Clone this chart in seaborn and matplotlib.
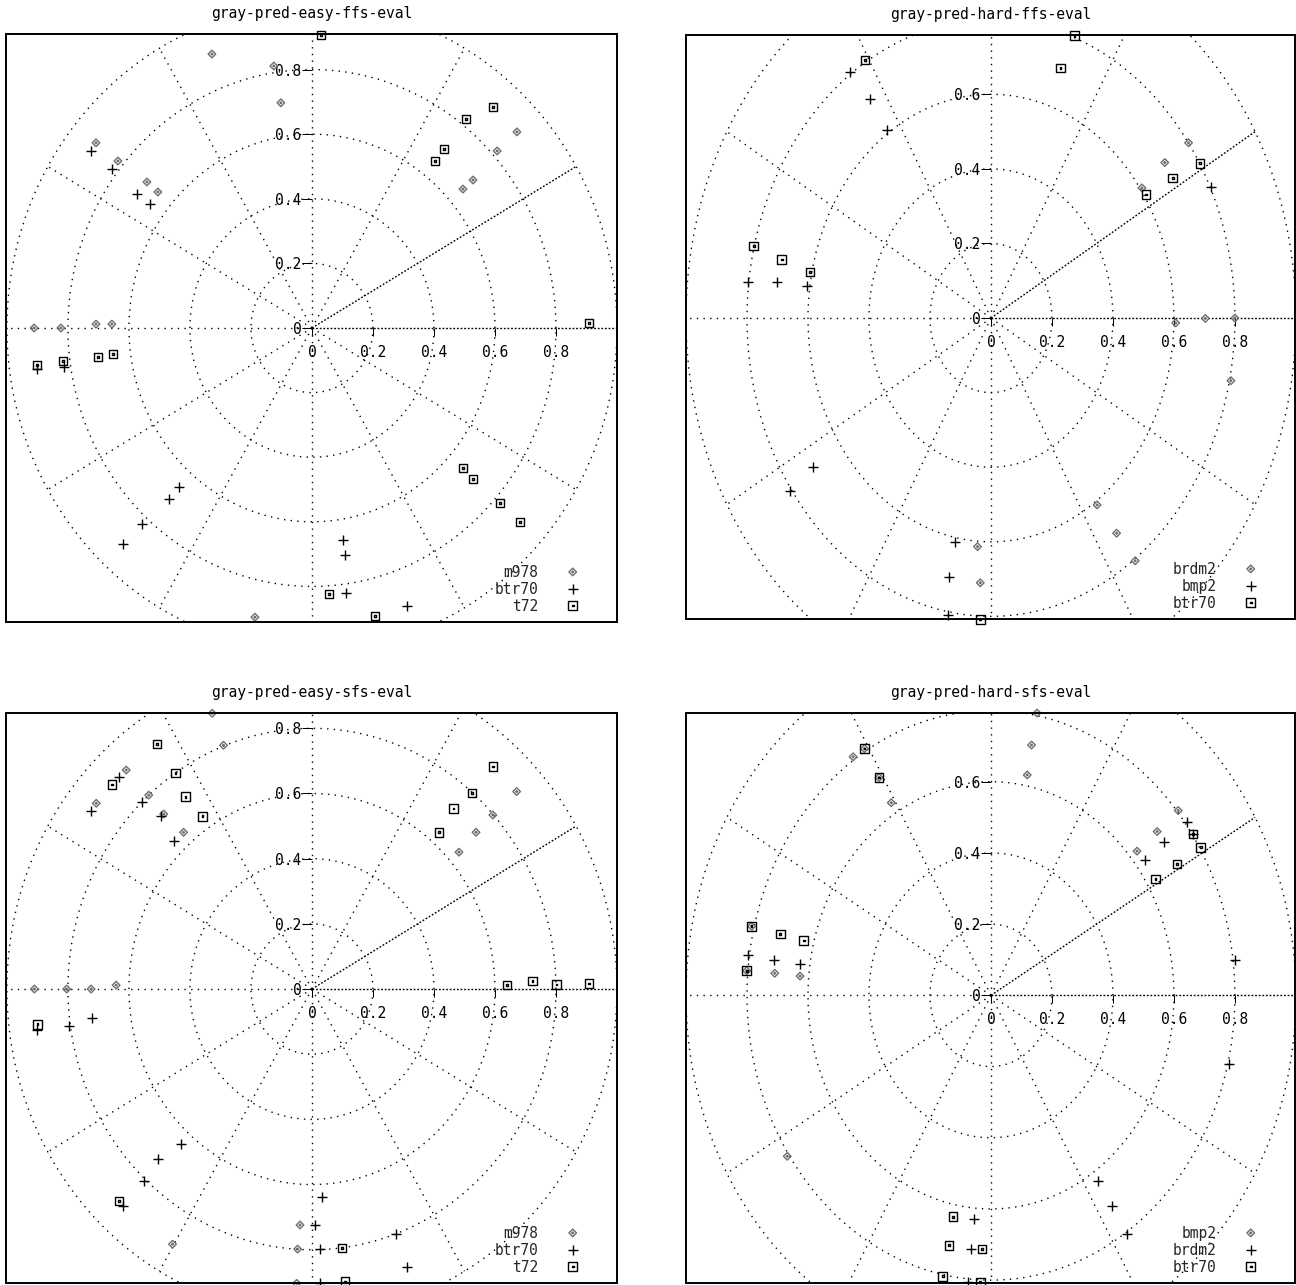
import numpy as np
import matplotlib
matplotlib.use("Agg")
import matplotlib.pyplot as plt
from matplotlib.path import Path
from matplotlib.patches import Rectangle
import seaborn as sns

# ---------------- data (x, y positions) ----------------
# Panel 1: gray-pred-easy-ffs-eval
p1_m978_x = [-0.328, -0.125, -0.102, -0.708, -0.636, -0.541, -0.505, 0.672, 0.607, 0.528, 0.495,
             -0.911, -0.823, -0.708, -0.656, -0.187]
p1_m978_y = [0.848, 0.811, 0.697, 0.573, 0.517, 0.452, 0.421, 0.607, 0.548, 0.458, 0.430,
             0.0, 0.0, 0.012, 0.012, -0.895]
p1_btr70_x = [-0.725, -0.656, -0.574, -0.531, -0.902, -0.813, -0.436, -0.469, -0.557, -0.620,
              0.102, 0.108, 0.111, 0.311]
p1_btr70_y = [0.548, 0.492, 0.415, 0.384, -0.127, -0.121, -0.492, -0.529, -0.607, -0.669,
              -0.656, -0.703, -0.820, -0.861]
p1_t72_x = [0.030, 0.593, 0.505, 0.433, 0.403, 0.908, -0.902, -0.816, -0.702, -0.652,
            0.495, 0.528, 0.616, 0.682, 0.056, 0.207]
p1_t72_y = [0.907, 0.684, 0.647, 0.554, 0.517, 0.015, -0.115, -0.102, -0.090, -0.080,
            -0.433, -0.467, -0.542, -0.601, -0.824, -0.892]

# Panel 2: gray-pred-hard-ffs-eval
p2_brdm2_x = [0.648, 0.570, 0.495, 0.606, 0.703, 0.800, 0.787, 0.348, 0.412, 0.473, -0.044, -0.035]
p2_brdm2_y = [0.470, 0.417, 0.349, -0.013, -0.001, 0.0, -0.168, -0.501, -0.577, -0.651, -0.613, -0.710]
p2_bmp2_x = [-0.461, -0.395, -0.340, 0.722, -0.797, -0.700, -0.604, -0.584, -0.658, -0.119, -0.137, -0.141]
p2_bmp2_y = [0.660, 0.587, 0.505, 0.352, 0.096, 0.096, 0.086, -0.400, -0.465, -0.601, -0.695, -0.796]
p2_btr70_x = [0.274, -0.413, 0.228, 0.686, 0.596, 0.509, -0.778, -0.686, -0.593, -0.035]
p2_btr70_y = [0.757, 0.692, 0.670, 0.415, 0.375, 0.331, 0.193, 0.157, 0.124, -0.808]

# Panel 3: gray-pred-easy-sfs-eval
p3_m978_x = [-0.327, -0.290, -0.609, -0.535, -0.707, -0.486, -0.421, 0.671, 0.593, 0.538, 0.482,
             -0.910, -0.804, -0.724, -0.642, -0.039, -0.047, -0.457, -0.050]
p3_m978_y = [0.846, 0.748, 0.672, 0.595, 0.570, 0.537, 0.481, 0.606, 0.534, 0.481, 0.420,
             0.0, 0.0, 0.0, 0.012, -0.724, -0.798, -0.783, -0.903]
p3_btr70_x = [-0.633, -0.558, -0.725, -0.495, -0.452, -0.900, -0.795, -0.721, -0.430, -0.504,
              -0.549, -0.618, 0.033, 0.011, 0.028, 0.274, 0.310, 0.028]
p3_btr70_y = [0.651, 0.574, 0.546, 0.530, 0.453, -0.126, -0.113, -0.088, -0.476, -0.522,
              -0.589, -0.667, -0.638, -0.724, -0.799, -0.753, -0.852, -0.903]
p3_t72_x = [-0.508, -0.447, -0.656, -0.415, -0.359, 0.593, 0.524, 0.464, 0.417, 0.640, 0.723,
            0.802, 0.908, -0.900, -0.633, 0.099, 0.108]
p3_t72_y = [0.752, 0.663, 0.628, 0.590, 0.530, 0.683, 0.602, 0.554, 0.481, 0.012, 0.025,
            0.014, 0.017, -0.108, -0.650, -0.795, -0.898]

# Panel 4: gray-pred-hard-sfs-eval
p4_bmp2_x = [0.151, 0.133, 0.119, -0.452, -0.367, -0.327, 0.614, 0.545, 0.479, -0.709, -0.626,
             -0.801, -0.785, -0.415, -0.668]
p4_bmp2_y = [0.793, 0.703, 0.619, 0.670, 0.612, 0.541, 0.519, 0.460, 0.405, 0.062, 0.054,
             0.069, 0.194, 0.693, -0.452]
p4_brdm2_x = [0.642, 0.567, 0.504, 0.662, -0.797, -0.711, -0.627, 0.799, 0.779, 0.351, 0.397,
              0.446, -0.054, -0.065, -0.074]
p4_brdm2_y = [0.486, 0.431, 0.379, 0.453, 0.113, 0.098, 0.087, 0.098, -0.194, -0.521, -0.593,
              -0.669, -0.628, -0.712, -0.805]
p4_btr70_x = [-0.415, -0.367, 0.662, 0.688, 0.610, 0.540, -0.785, -0.691, -0.614, -0.801,
              -0.124, -0.138, -0.029, -0.158, -0.035]
p4_btr70_y = [0.693, 0.612, 0.453, 0.416, 0.369, 0.327, 0.194, 0.172, 0.154, 0.069,
              -0.622, -0.702, -0.712, -0.789, -0.805]

titles = ["gray-pred-easy-ffs-eval", "gray-pred-hard-ffs-eval",
          "gray-pred-easy-sfs-eval", "gray-pred-hard-sfs-eval"]
legend_labels = [["m978", "btr70", "t72"], ["brdm2", "bmp2", "btr70"],
                 ["m978", "btr70", "t72"], ["bmp2", "brdm2", "btr70"]]

x_ticks = [0, 0.2, 0.4, 0.6, 0.8]
x_tick_labels = ["0", "0.2", "0.4", "0.6", "0.8"]
y_ticks_a = [0, 0.2, 0.4, 0.6, 0.8]
y_tick_labels_a = ["0", "0.2", "0.4", "0.6", "0.8"]
y_ticks_b = [0, 0.2, 0.4, 0.6]
y_tick_labels_b = ["0", "0.2", "0.4", "0.6"]

grid_radii = [0.2, 0.4, 0.6, 0.8, 1.0]
spoke_angles = [0, 30, 60, 90, 120, 150, 180, 210, 240, 270, 300, 330]

# ---------------- style ----------------
sns.set_theme(style="white")
plt.rcParams['font.family'] = ['DejaVu Sans Mono']
plt.rcParams['lines.scale_dashes'] = False

W, H = 1296, 1285
PX = 0.72  # one pixel in points at 100 dpi
FS = 10.5

fig = plt.figure(figsize=(W / 100, H / 100), dpi=100)
fig.patch.set_facecolor('white')

MV, LT, CP = Path.MOVETO, Path.LINETO, Path.CLOSEPOLY
diamond_marker = Path(
    [(0, 1), (1, 0), (0, -1), (-1, 0), (0, 1), (0, 0.25), (0.25, 0), (0, -0.25), (-0.25, 0), (0, 0.25)],
    [MV, LT, LT, LT, CP, MV, LT, LT, LT, CP])
square_marker = Path(
    [(-1, -1), (1, -1), (1, 1), (-1, 1), (-1, -1), (-0.2, -0.2), (0.2, -0.2), (0.2, 0.2), (-0.2, 0.2), (-0.2, -0.2)],
    [MV, LT, LT, LT, CP, MV, LT, LT, LT, CP])

# pixel rectangles (left, top, right, bottom)
rects = [(6, 34, 617, 622), (686, 35, 1295, 619), (6, 713, 617, 1283), (686, 713, 1295, 1283)]
xlims = [(-1.003, 1.0), (-1.0, 0.997), (-1.003, 1.0), (-1.0, 0.997)]
ylims = [(-0.91, 0.91), (-0.807, 0.759), (-0.902, 0.847), (-0.808, 0.793)]
yticks_all = [(y_ticks_a, y_tick_labels_a), (y_ticks_b, y_tick_labels_b),
              (y_ticks_a, y_tick_labels_a), (y_ticks_b, y_tick_labels_b)]
series_all = [
    [(p1_m978_x, p1_m978_y), (p1_btr70_x, p1_btr70_y), (p1_t72_x, p1_t72_y)],
    [(p2_brdm2_x, p2_brdm2_y), (p2_bmp2_x, p2_bmp2_y), (p2_btr70_x, p2_btr70_y)],
    [(p3_m978_x, p3_m978_y), (p3_btr70_x, p3_btr70_y), (p3_t72_x, p3_t72_y)],
    [(p4_bmp2_x, p4_bmp2_y), (p4_brdm2_x, p4_brdm2_y), (p4_btr70_x, p4_btr70_y)],
]

DOT = (0, (1.0, 3.8))
DENSE = (0, (1.3, 1.3))
GRID_LW = 1.0

for i in range(4):
    l, t, r, b = rects[i]
    wpx, hpx = r - l, b - t
    ax = fig.add_axes([l / W, 1 - b / H, wpx / W, hpx / H])
    ax.set_facecolor('white')
    ax.set_xlim(*xlims[i])
    ax.set_ylim(*ylims[i])

    for rad in grid_radii:
        th = np.linspace(0, 2 * np.pi, int(90 * rad / 0.2) + 1)
        ax.plot(rad * np.cos(th), rad * np.sin(th), color='black', lw=GRID_LW, ls=DOT,
                antialiased=True, zorder=1)
    for a in spoke_angles:
        ang = np.deg2rad(a)
        ax.plot([0, np.cos(ang)], [0, np.sin(ang)], color='black', lw=GRID_LW,
                ls=DENSE if a in (0, 30) else DOT, antialiased=True, zorder=1)

    (dx, dy), (px_, py_), (sx, sy) = series_all[i]
    labs = legend_labels[i]
    sns.scatterplot(x=dx, y=dy, ax=ax, marker=diamond_marker, s=30, facecolor='none',
                    edgecolor='#6e6e6e', linewidth=1.0, label=labs[0], legend=False,
                    zorder=3, clip_on=False)
    h1 = ax.collections[-1]
    sns.scatterplot(x=px_, y=py_, ax=ax, marker='+', s=45, color='black',
                    linewidth=1.0, label=labs[1], legend=False, zorder=3, clip_on=False)
    h2 = ax.collections[-1]
    sns.scatterplot(x=sx, y=sy, ax=ax, marker=square_marker, s=38, facecolor='none',
                    edgecolor='black', linewidth=1.0, label=labs[2], legend=False,
                    zorder=3, clip_on=False)
    h3 = ax.collections[-1]

    # axes through origin with tick labels (gnuplot "axis" tics)
    for s in ax.spines.values():
        s.set_visible(False)
    ax.spines['left'].set_position(('data', 0))
    ax.spines['bottom'].set_position(('data', 0))
    ax.set_xticks(x_ticks)
    ax.set_xticklabels(x_tick_labels)
    yt, ytl = yticks_all[i]
    ax.set_yticks(yt)
    ax.set_yticklabels(ytl)
    ax.tick_params(axis='x', bottom=True, top=False, direction='out', length=8 * PX,
                   width=PX, color='black', pad=6.5, labelsize=FS, labelcolor='black')
    ax.tick_params(axis='y', left=True, right=False, direction='out', length=10 * PX,
                   width=PX, color='black', pad=0.5, labelsize=FS, labelcolor='black')
    ax.grid(False)

    # frame
    ax.add_patch(Rectangle((0, 0), 1, 1, transform=ax.transAxes, fill=False,
                           edgecolor='black', lw=1.4, clip_on=False, zorder=6))

    ax.text(0.5, 1 + 21 / hpx, titles[i], transform=ax.transAxes, ha='center',
            va='center', fontsize=FS, color='black')

    ax.legend(handles=[h1, h2, h3], labels=labs, loc='lower right',
              bbox_to_anchor=(1 - 37 / wpx, 8.5 / hpx), frameon=False, markerfirst=False,
              scatterpoints=1, scatteryoffsets=[0.5], handlelength=1.0, handletextpad=1.85,
              borderpad=0, borderaxespad=0, labelspacing=0.12, fontsize=FS)

fig.savefig("out.png", dpi=100, facecolor='white')
